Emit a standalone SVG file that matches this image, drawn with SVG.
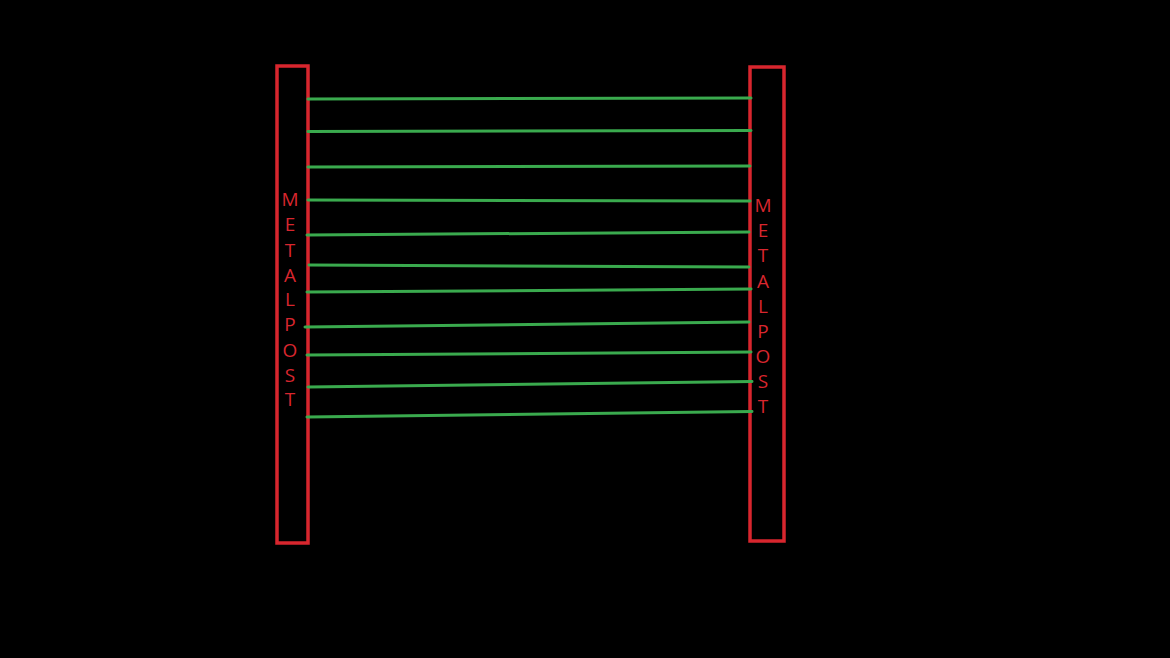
<svg xmlns="http://www.w3.org/2000/svg" width="1170" height="658" viewBox="0 0 1170 658">
<style>
.post{fill:none;stroke:#d8262e;stroke-width:3.5}
.lbl{font-family:"Open Sans","Liberation Sans",sans-serif;font-size:19px;fill:#d8262e;text-anchor:middle}
.wire{stroke:#3aaa4e;stroke-width:3;stroke-linecap:round;fill:none}
</style>
<rect width="1170" height="658" fill="#000"/>
<g id="post-left">
<rect class="post" x="277" y="66" width="31" height="477"/>
<text class="lbl"><tspan x="290" y="206">M</tspan><tspan x="290" y="231">E</tspan><tspan x="290" y="257">T</tspan><tspan x="290" y="282">A</tspan><tspan x="290" y="306">L</tspan><tspan x="290" y="331">P</tspan><tspan x="290" y="357">O</tspan><tspan x="290" y="382">S</tspan><tspan x="290" y="406">T</tspan></text>
</g>
<g id="post-right">
<rect class="post" x="750" y="67" width="34" height="474"/>
<text class="lbl"><tspan x="763" y="212">M</tspan><tspan x="763" y="237">E</tspan><tspan x="763" y="262">T</tspan><tspan x="763" y="288">A</tspan><tspan x="763" y="313">L</tspan><tspan x="763" y="338">P</tspan><tspan x="763" y="363">O</tspan><tspan x="763" y="388">S</tspan><tspan x="763" y="413">T</tspan></text>
</g>
<g id="wires">
<line class="wire" x1="308" y1="99" x2="751" y2="98"/>
<line class="wire" x1="308" y1="131.5" x2="751" y2="130.5"/>
<line class="wire" x1="308" y1="167" x2="750" y2="166"/>
<line class="wire" x1="308" y1="200" x2="750" y2="201"/>
<line class="wire" x1="307" y1="235" x2="749" y2="232"/>
<line class="wire" x1="309" y1="265" x2="749" y2="267"/>
<line class="wire" x1="307" y1="292" x2="751" y2="289"/>
<line class="wire" x1="305" y1="327" x2="749" y2="322"/>
<line class="wire" x1="307" y1="355" x2="751" y2="352"/>
<line class="wire" x1="308" y1="387" x2="752" y2="381.5"/>
<line class="wire" x1="307" y1="417" x2="752" y2="411.5"/>
</g>
</svg>
